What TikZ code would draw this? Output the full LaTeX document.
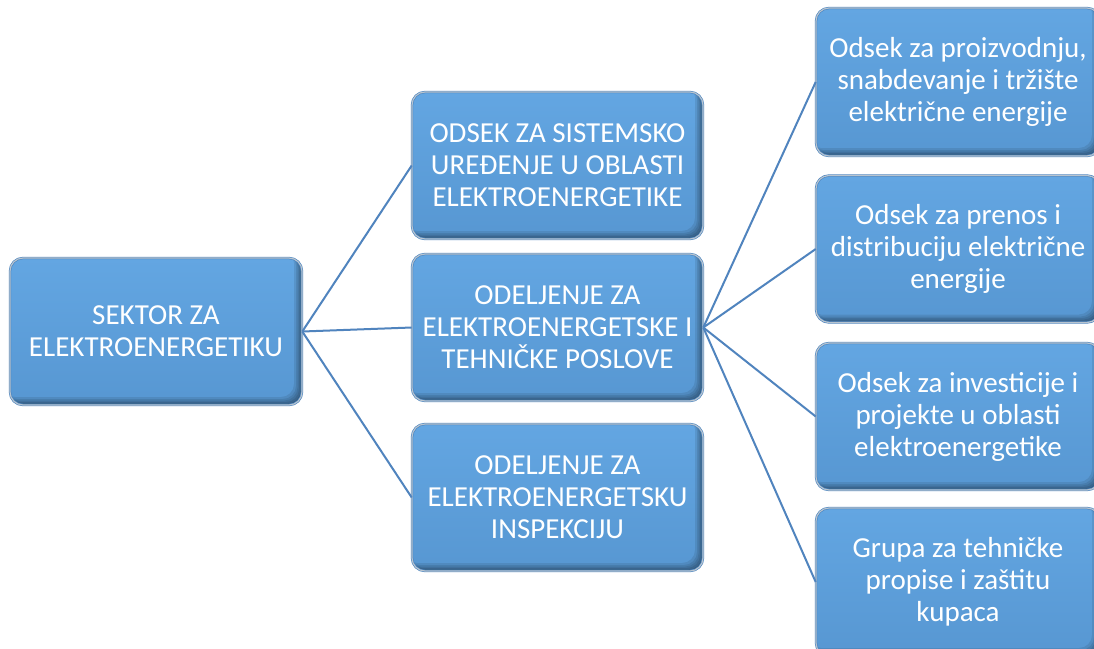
\documentclass[tikz,border=0pt]{standalone}
\usepackage{fontspec}
\setmainfont{Carlito}
\definecolor{boxtop}{HTML}{63A6E2}
\definecolor{boxbot}{HTML}{5797D2}
\definecolor{rimblue}{HTML}{4A84C0}
\definecolor{rimgray}{HTML}{B8C4CF}
\definecolor{linkblue}{HTML}{5084BE}
\tikzset{
  orgbox/.style={rounded corners=13pt, top color=boxtop, bottom color=boxbot,
    draw=rimblue, double=rimgray, double distance=1.2pt, line width=0.6pt,
    text=white, align=center, font=\fontsize{29}{32}\selectfont,
    inner sep=0pt, minimum height=147pt,
    path picture={
      \foreach \d in {1.5,3,4.5,6,8}{
        \fill[black, opacity=0.09, even odd rule]
          ([shift={(-40pt,-40pt)}]path picture bounding box.south west) rectangle
          ([shift={(40pt,40pt)}]path picture bounding box.north east)
          [rounded corners=13pt]
          ([shift={(-\d pt,\d pt)}]path picture bounding box.south west) rectangle
          ([shift={(-\d pt,\d pt)}]path picture bounding box.north east);
      }
    }},
  link/.style={draw=linkblue, line width=2pt},
}
\begin{document}
\begin{tikzpicture}[x=1pt,y=-1pt]
\useasboundingbox (0,0) rectangle (1094,648);
\clip (0,0) rectangle (1094,648);
\fill[white] (0,0) rectangle (1094,648);

\node[orgbox, minimum width=292pt] (sektor) at (156,331.5) {SEKTOR ZA\\ELEKTROENERGETIKU};

\node[orgbox, minimum width=291pt] (odsekSis) at (557.5,165.5) {ODSEK ZA SISTEMSKO\\UREĐENJE U OBLASTI\\ELEKTROENERGETIKE};
\node[orgbox, minimum width=291pt] (odelTeh) at (557.5,327.5) {ODELJENJE ZA\\ELEKTROENERGETSKE I\\TEHNIČKE POSLOVE};
\node[orgbox, minimum width=291pt] (odelIns) at (557.5,497.5) {ODELJENJE ZA\\ELEKTROENERGETSKU\\INSPEKCIJU};

\node[orgbox, minimum width=284pt, minimum height=148pt] (r1) at (958,82) {Odsek za proizvodnju,\\snabdevanje i tržište\\električne energije};
\node[orgbox, minimum width=284pt] (r2) at (958,249) {Odsek za prenos i\\distribuciju električne\\energije};
\node[orgbox, minimum width=284pt] (r3) at (958,416.5) {Odsek za investicije i\\projekte u oblasti\\elektroenergetike};
\node[orgbox, minimum width=284pt, minimum height=148pt] (r4) at (958,582) {Grupa za tehničke\\propise i zaštitu\\kupaca};

\draw[link] (sektor.east) -- (odsekSis.west);
\draw[link] (sektor.east) -- (odelTeh.west);
\draw[link] (sektor.east) -- (odelIns.west);
\draw[link] (odelTeh.east) -- (r1.west);
\draw[link] (odelTeh.east) -- (r2.west);
\draw[link] (odelTeh.east) -- (r3.west);
\draw[link] (odelTeh.east) -- (r4.west);
\end{tikzpicture}
\end{document}
